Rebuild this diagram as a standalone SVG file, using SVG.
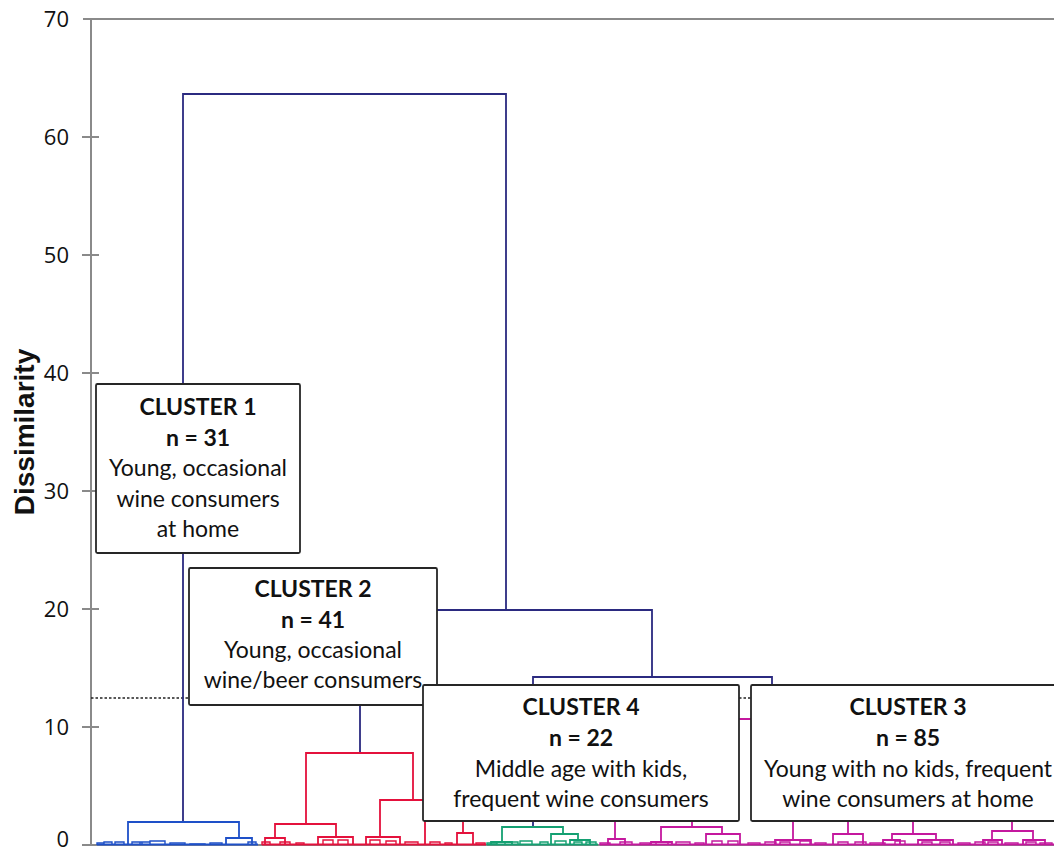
<svg xmlns="http://www.w3.org/2000/svg" width="1054" height="854" viewBox="0 0 1054 854">
<style>
.ax{stroke:#8a8a8a;stroke-width:2;fill:none}
.tl{font-family:"Open Sans","Liberation Sans",sans-serif;font-size:22px;fill:#111;text-anchor:end}
.nv{stroke:#2b2a80;stroke-width:1.8;fill:none}
.c1{stroke:#1e50c8;stroke-width:1.8;fill:none}
.c2{stroke:#e4113c;stroke-width:1.8;fill:none}
.c4{stroke:#14a072;stroke-width:1.8;fill:none}
.c3{stroke:#c4189e;stroke-width:1.8;fill:none}
.lf{stroke-width:1.4}
.box rect{fill:#fff;stroke:#262626;stroke-width:1.8}
.box text{font-family:Lato,"Open Sans",sans-serif;font-size:23px;fill:#111;text-anchor:middle}
.box .b{font-weight:bold}
</style>
<rect width="1054" height="854" fill="#fff"/>
<g id="axes">
<path class="ax" d="M83 19H1054M91 19V845H1054M82 137H99M82 255H99M82 373H99M82 491H99M82 609H99M82 727H99M82 845H99"/>
<text class="tl" x="69" y="27">70</text>
<text class="tl" x="69" y="145">60</text>
<text class="tl" x="69" y="263">50</text>
<text class="tl" x="69" y="381">40</text>
<text class="tl" x="69" y="499">30</text>
<text class="tl" x="69" y="617">20</text>
<text class="tl" x="69" y="735">10</text>
<text class="tl" x="69" y="847">0</text>
<text x="34" y="432" transform="rotate(-90 34 432)" font-family="'Liberation Sans',Arial,sans-serif" font-weight="bold" font-size="28" text-anchor="middle" fill="#111">Dissimilarity</text>
</g>
<g id="connectors">
<path d="M91 698H1054" stroke="#222" stroke-width="1.3" stroke-dasharray="2.5,2"/>
<path class="nv" d="M183 822V94H506V610M360 753V610H652V677M533 827V677H772V719"/>
<path class="c1" d="M128 845V822H239V838M226 845V838H252V845"/>
<path class="c1" d="M97 844.5H258" stroke-width="2.6"/>
<path class="c1 lf" d="M97 845V843H104V845M104 844V842H112V845M115 845V842H124V845M132 845V842H142V845M140 845V842H150V845M150 843V841H165V844M170 845V843H185V845M190 845V844H205V845M210 845V843H222V845M248 845V842H256V845"/>
<path class="c2" d="M306 824V753H413V800M275 838V824H336V837M318 845V837H353V845M265 845V838H285V845M380 837V800H440V815M366 845V837H400V845M425 845V815H463V833M457 845V833H473V845"/>
<path class="c2" d="M262 844.5H486" stroke-width="2.2"/>
<path class="c2 lf" d="M262 845V842H270V845M280 845V842H290V845M296 845V843H304V845M323 845V840H333V845M338 845V840H348V845M370 845V840H380V845M386 845V841H396V845M405 845V842H418V845M430 845V842H440V845M445 845V843H452V845M476 845V843H485V845"/>
<path class="c4" d="M502 842V827H563V834M491 845V842H512V845M551 845V834H578V840M570 845V840H590V845"/>
<path class="c4" d="M487 844.5H598" stroke-width="2.2"/>
<path class="c4 lf" d="M487 845V843H497V845M505 845V842H518V845M520 845V841H532V845M540 845V842H548V845M555 845V841H566V845M574 845V842H582V845M586 845V842H596V845"/>
<path class="c3" d="M654 760V719H900V745M615 839V760H692V827M820 790V745H962V780M793 840V790H848V834M913 834V780H1012V831"/>
<path class="c3" d="M608 845V839H625V845M661 842V827H722V834M651 845V842H672V845M706 845V834H740V845M775 845V840H811V845M833 845V834H863V845M892 840V834H936V840M918 845V840H953V845M883 845V840H900V845M992 840V831H1033V840M983 845V840H1002V845M1023 845V840H1045V845"/>
<path class="c3" d="M600 844.5H1054" stroke-width="2.2"/>
<path class="c3 lf" d="M600 845V843H610V845M620 845V842H632V845M640 845V843H650V845M656 845V842H668V845M676 845V842H690V845M695 845V843H704V845M712 845V841H722V845M728 845V841H738V845M748 845V843H760V845M765 845V842H776V845M780 845V842H790V845M800 845V841H810V845M815 845V843H826V845M838 845V842H848V845M855 845V842H866V845M870 845V843H885V845M895 845V841H905V845M922 845V842H932V845M940 845V842H950V845M958 845V843H970V845M975 845V842H985V845M988 845V842H998V845M1005 845V843H1018V845M1026 845V842H1036V845M1040 845V843H1052V845"/>
</g>
<g id="cluster1" class="box">
<rect x="96" y="384" width="204" height="169" rx="1.5"/>
<text class="b" x="198" y="415">CLUSTER 1</text>
<text class="b" x="198" y="446">n = 31</text>
<text x="198" y="476">Young, occasional</text>
<text x="198" y="507">wine consumers</text>
<text x="198" y="537">at home</text>
</g>
<g id="cluster2" class="box">
<rect x="189" y="568" width="248" height="137" rx="1.5"/>
<text class="b" x="313" y="597">CLUSTER 2</text>
<text class="b" x="313" y="628">n = 41</text>
<text x="313" y="658">Young, occasional</text>
<text x="313" y="688">wine/beer consumers</text>
</g>
<g id="cluster4" class="box">
<rect x="423" y="685" width="316" height="136" rx="1.5"/>
<text class="b" x="581" y="715">CLUSTER 4</text>
<text class="b" x="581" y="746">n = 22</text>
<text x="581" y="777">Middle age with kids,</text>
<text x="581" y="807">frequent wine consumers</text>
</g>
<g id="cluster3" class="box">
<rect x="751" y="685" width="314" height="136" rx="1.5"/>
<text class="b" x="908" y="715">CLUSTER 3</text>
<text class="b" x="908" y="746">n = 85</text>
<text x="908" y="777">Young with no kids, frequent</text>
<text x="908" y="807">wine consumers at home</text>
</g>
</svg>
